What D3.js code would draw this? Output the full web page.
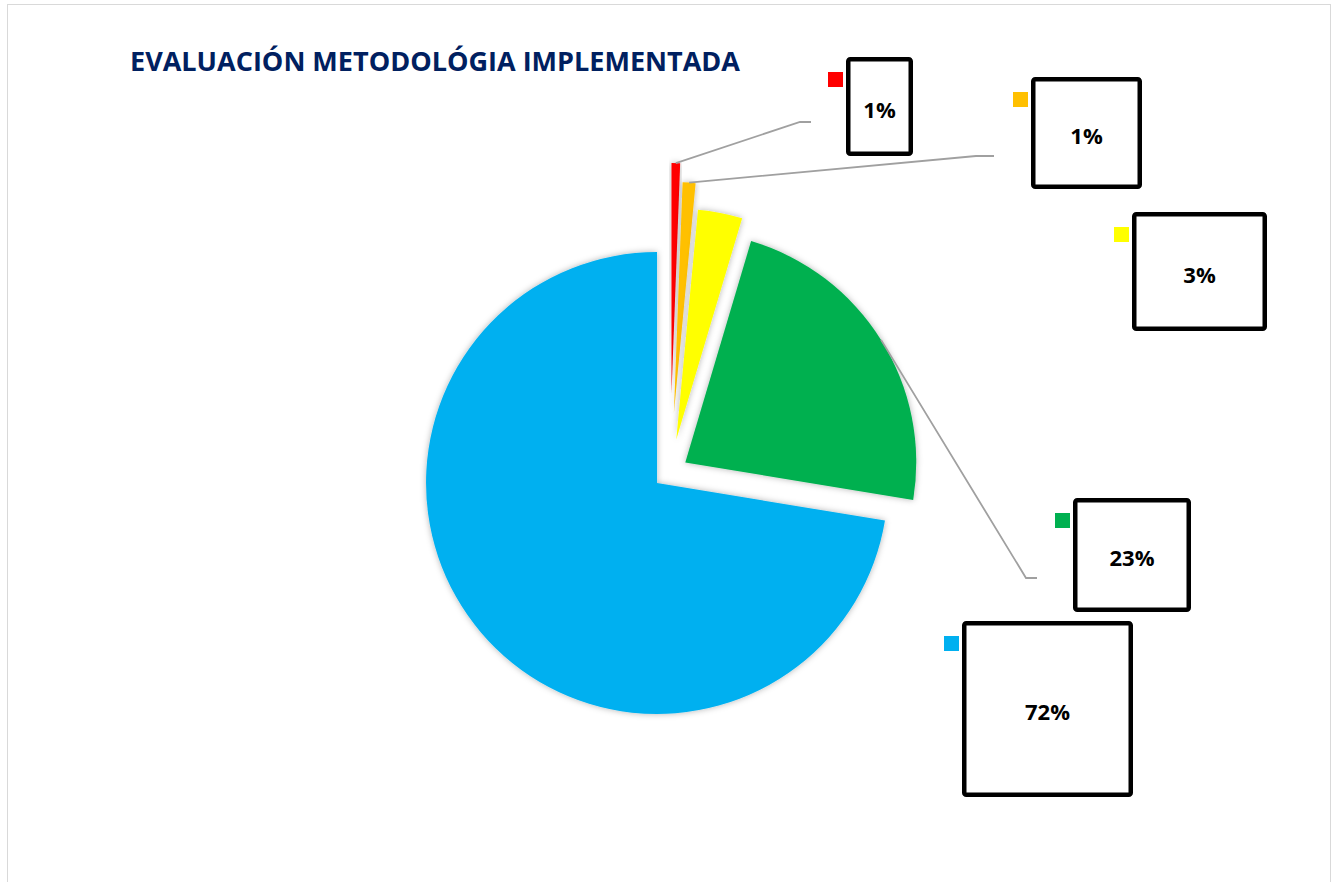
<!DOCTYPE html>
<html>
<head>
<meta charset="utf-8">
<script src="https://cdn.jsdelivr.net/npm/d3@7"></script>
<style>
  html, body { margin: 0; padding: 0; background: #ffffff; }
  svg { display: block; }
</style>
</head>
<body>
<svg id="chart" width="1337" height="882"></svg>
<script>
// ---- data ----
const categories = ["Muy deficiente", "Deficiente", "Aceptable", "Buena", "Excelente"];
const values = [0.6, 0.9, 3.1, 23.0, 72.4];
const colors = ["#FF0000", "#FFC000", "#FFFF00", "#00B050", "#00B0F0"];
const title = "EVALUACIÓN METODOLÓGIA IMPLEMENTADA";

// ---- layout ----
const center = [670, 472];
const radius = 231;
const explode = [78, 59, 33, 18, 17];
const labelBoxes = [
  [846, 57, 67, 99],
  [1031, 77, 111, 112],
  [1132, 212, 135, 119],
  [1073, 498, 118, 114],
  [962, 621, 171, 176]
];
const leaderElbows = [
  [[800, 122], [811, 122]],
  [[976, 156], [994, 156]],
  null,
  [[1026, 578], [1037, 578]],
  null
];

const svg = d3.select("#chart");

// chart border
svg.append("rect")
  .attr("x", 7.5).attr("y", 4.5)
  .attr("width", 1323).attr("height", 900)
  .attr("fill", "#fff").attr("stroke", "#d9d9d9").attr("stroke-width", 1);

// shadow filter
const defs = svg.append("defs");
const f = defs.append("filter").attr("id", "shadow")
  .attr("x", "-20%").attr("y", "-20%").attr("width", "140%").attr("height", "140%");
f.append("feDropShadow").attr("dx", 0).attr("dy", 0)
  .attr("stdDeviation", 3).attr("flood-color", "#000").attr("flood-opacity", 0.3);

// title
svg.append("text")
  .attr("x", 130).attr("y", 71)
  .attr("font-family", "'Open Sans', 'DejaVu Sans', sans-serif")
  .attr("font-weight", 700)
  .attr("font-size", 27)
  .attr("fill", "#002060")
  .attr("textLength", 610)
  .attr("lengthAdjust", "spacingAndGlyphs")
  .text(title);

const total = d3.sum(values);
const fmt = d3.format(".0%");
const pie = d3.pie().sort(null).value(d => d).startAngle(0).endAngle(2 * Math.PI);
const arcs = pie(values);
const arc = d3.arc().innerRadius(0).outerRadius(radius);

const offsetOf = (d, i) => {
  const m = (d.startAngle + d.endAngle) / 2;
  return [center[0] + explode[i] * Math.sin(m), center[1] - explode[i] * Math.cos(m)];
};

const g = svg.append("g");
g.selectAll("path.slice")
  .data(arcs)
  .join("path")
  .attr("class", "slice")
  .attr("transform", (d, i) => { const o = offsetOf(d, i); return `translate(${o[0]},${o[1]})`; })
  .attr("d", arc)
  .attr("fill", (d, i) => colors[i])
  .attr("filter", "url(#shadow)");

// leader lines
arcs.forEach((d, i) => {
  if (!leaderElbows[i]) return;
  const o = offsetOf(d, i);
  const m = (d.startAngle + d.endAngle) / 2;
  const start = [o[0] + radius * Math.sin(m), o[1] - radius * Math.cos(m)];
  const pts = [start, leaderElbows[i][0], leaderElbows[i][1]];
  svg.append("path")
    .attr("d", d3.line()(pts))
    .attr("fill", "none")
    .attr("stroke", "#a0a0a0")
    .attr("stroke-width", 1.8);
});

// data labels
const sw = 4.5;
arcs.forEach((d, i) => {
  const [bx, by, bw, bh] = labelBoxes[i];
  svg.append("rect")
    .attr("x", bx + sw / 2).attr("y", by + sw / 2)
    .attr("width", bw - sw).attr("height", bh - sw)
    .attr("rx", 2)
    .attr("fill", "#fff").attr("stroke", "#000").attr("stroke-width", sw);
  svg.append("rect")
    .attr("x", bx - 18).attr("y", by + 15)
    .attr("width", 15).attr("height", 15)
    .attr("fill", colors[i]);
  svg.append("text")
    .attr("x", bx + bw / 2).attr("y", by + bh / 2 + 2)
    .attr("text-anchor", "middle")
    .attr("dominant-baseline", "central")
    .attr("font-family", "'Open Sans', 'DejaVu Sans', sans-serif")
    .attr("font-weight", 700)
    .attr("font-size", 22)
    .attr("fill", "#000")
    .text(fmt(d.data / total));
});
</script>
</body>
</html>
